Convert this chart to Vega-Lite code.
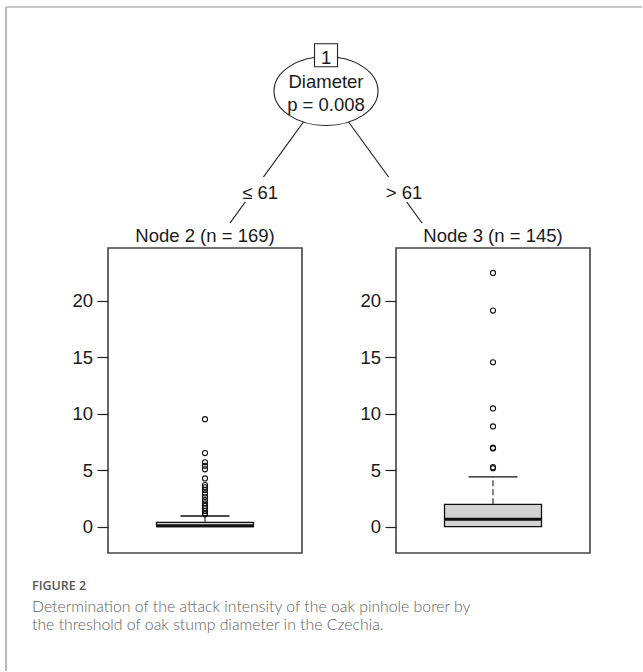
{
  "$schema": "https://vega.github.io/schema/vega-lite/v6.json",
  "padding": {"left": 5, "top": 6, "right": 0, "bottom": 0},
  "background": "white",
  "datasets": {
    "nodes": [
      {"id": "1", "variable": "Diameter", "p": "p = 0.008", "pos": 1.5, "depth": 0}
    ],
    "edges": [
      {"split": "≤ 61", "pos": 1.5, "depth": 0, "child_pos": 1, "child_depth": 1, "label_pos": 1.271, "label_depth": 0.51},
      {"split": "> 61", "pos": 1.5, "depth": 0, "child_pos": 2, "child_depth": 1, "label_pos": 1.771, "label_depth": 0.51}
    ],
    "stats": [
      {"node": "Node 2", "n": 169, "q1": 0, "median": 0.08, "q3": 0.39, "upper_whisker": 0.95},
      {"node": "Node 3", "n": 145, "q1": 0, "median": 0.65, "q3": 1.98, "upper_whisker": 4.42}
    ],
    "outliers": [
      {"node": "Node 2", "value": 9.53},
      {"node": "Node 2", "value": 6.52},
      {"node": "Node 2", "value": 5.7},
      {"node": "Node 2", "value": 5.4},
      {"node": "Node 2", "value": 5.08},
      {"node": "Node 2", "value": 4.28},
      {"node": "Node 2", "value": 3.69},
      {"node": "Node 2", "value": 3.49},
      {"node": "Node 2", "value": 3.25},
      {"node": "Node 2", "value": 2.95},
      {"node": "Node 2", "value": 2.65},
      {"node": "Node 2", "value": 2.36},
      {"node": "Node 2", "value": 2.07},
      {"node": "Node 2", "value": 1.84},
      {"node": "Node 2", "value": 1.64},
      {"node": "Node 2", "value": 1.4},
      {"node": "Node 2", "value": 1.2},
      {"node": "Node 2", "value": 1.1},
      {"node": "Node 3", "value": 22.48},
      {"node": "Node 3", "value": 19.15},
      {"node": "Node 3", "value": 14.57},
      {"node": "Node 3", "value": 10.48},
      {"node": "Node 3", "value": 8.88},
      {"node": "Node 3", "value": 7.0},
      {"node": "Node 3", "value": 6.93},
      {"node": "Node 3", "value": 5.27},
      {"node": "Node 3", "value": 5.18}
    ]
  },
  "config": {
    "view": {"stroke": "#444", "strokeWidth": 1.6},
    "font": "Liberation Sans",
    "axisY": {"domain": false, "grid": false, "tickSize": 11, "tickWidth": 1.2, "tickColor": "#222", "labelFontSize": 18.5, "labelFont": "Liberation Sans", "labelColor": "#1a1a1a", "labelPadding": 4.5},
    "title": {"font": "Liberation Sans", "fontSize": 18.5, "fontWeight": "normal", "color": "#1a1a1a", "baseline": "alphabetic", "offset": 3, "anchor": "middle", "frame": "group"}
  },
  "bounds": "flush",
  "spacing": 25,
  "vconcat": [
    {
      "width": 482,
      "height": 216,
      "view": {"stroke": null},
      "layer": [
        {
          "data": {"values": [{}]},
          "mark": {"type": "rule", "color": "#c8c8c8", "strokeWidth": 2, "clip": false},
          "encoding": {
            "x": {"datum": 0.389, "type": "quantitative", "scale": {"domain": [0.743, 2.4166], "nice": false, "zero": false}, "axis": null},
            "x2": {"datum": 2.597},
            "y": {"datum": -0.4242, "type": "quantitative", "scale": {"domain": [-0.4242, 0.6667], "nice": false, "zero": false, "reverse": true}, "axis": null}
          }
        },
        {
          "data": {"values": [{}]},
          "mark": {"type": "rule", "color": "#b8b8b8", "strokeWidth": 2, "clip": false},
          "encoding": {
            "x": {"datum": 0.389, "type": "quantitative", "scale": {"domain": [0.743, 2.4166], "nice": false, "zero": false}, "axis": null},
            "y": {"datum": -0.4242, "type": "quantitative", "scale": {"domain": [-0.4242, 0.6667], "nice": false, "zero": false, "reverse": true}, "axis": null},
            "y2": {"datum": 2.929}
          }
        },
        {
          "data": {"name": "edges"},
          "mark": {"type": "rule", "color": "#222", "strokeWidth": 1.1, "clip": true},
          "encoding": {
            "x": {"field": "pos", "type": "quantitative", "scale": {"domain": [0.743, 2.4166], "nice": false, "zero": false}, "axis": null},
            "y": {"field": "depth", "type": "quantitative", "scale": {"domain": [-0.4242, 0.6667], "nice": false, "zero": false, "reverse": true}, "axis": null},
            "x2": {"field": "child_pos"},
            "y2": {"field": "child_depth"}
          }
        },
        {
          "data": {"name": "edges"},
          "mark": {"type": "point", "shape": "M-1,-0.568H1V0.568H-1Z", "size": 1936, "filled": true, "fill": "white", "strokeWidth": 0, "opacity": 1, "yOffset": -2.5},
          "encoding": {
            "x": {"field": "label_pos", "type": "quantitative", "scale": {"domain": [0.743, 2.4166], "nice": false, "zero": false}, "axis": null},
            "y": {"field": "label_depth", "type": "quantitative", "scale": {"domain": [-0.4242, 0.6667], "nice": false, "zero": false, "reverse": true}, "axis": null}
          }
        },
        {
          "data": {"name": "edges"},
          "mark": {"type": "text", "fontSize": 18.5, "font": "Liberation Sans", "color": "#1a1a1a", "baseline": "alphabetic", "align": "center", "dy": 7},
          "encoding": {
            "x": {"field": "label_pos", "type": "quantitative", "scale": {"domain": [0.743, 2.4166], "nice": false, "zero": false}, "axis": null},
            "y": {"field": "label_depth", "type": "quantitative", "scale": {"domain": [-0.4242, 0.6667], "nice": false, "zero": false, "reverse": true}, "axis": null},
            "text": {"field": "split", "type": "nominal"}
          }
        },
        {
          "data": {"name": "nodes"},
          "mark": {"type": "point", "shape": "M1,0C1,0.366 0.552,0.663 0,0.663C-0.552,0.663 -1,0.366 -1,0C-1,-0.366 -0.552,-0.663 0,-0.663C0.552,-0.663 1,-0.366 1,0Z", "size": 10816, "filled": true, "fill": "white", "stroke": "#222", "strokeWidth": 1.1, "opacity": 1},
          "encoding": {
            "x": {"field": "pos", "type": "quantitative", "scale": {"domain": [0.743, 2.4166], "nice": false, "zero": false}, "axis": null},
            "y": {"field": "depth", "type": "quantitative", "scale": {"domain": [-0.4242, 0.6667], "nice": false, "zero": false, "reverse": true}, "axis": null}
          }
        },
        {
          "data": {"name": "nodes"},
          "mark": {"type": "text", "fontSize": 18.5, "font": "Liberation Sans", "color": "#1a1a1a", "baseline": "alphabetic", "align": "center", "dy": -2.7},
          "encoding": {
            "x": {"field": "pos", "type": "quantitative", "scale": {"domain": [0.743, 2.4166], "nice": false, "zero": false}, "axis": null},
            "y": {"field": "depth", "type": "quantitative", "scale": {"domain": [-0.4242, 0.6667], "nice": false, "zero": false, "reverse": true}, "axis": null},
            "text": {"field": "variable", "type": "nominal"}
          }
        },
        {
          "data": {"name": "nodes"},
          "mark": {"type": "text", "fontSize": 18.5, "font": "Liberation Sans", "color": "#1a1a1a", "baseline": "alphabetic", "align": "center", "dy": 20},
          "encoding": {
            "x": {"field": "pos", "type": "quantitative", "scale": {"domain": [0.743, 2.4166], "nice": false, "zero": false}, "axis": null},
            "y": {"field": "depth", "type": "quantitative", "scale": {"domain": [-0.4242, 0.6667], "nice": false, "zero": false, "reverse": true}, "axis": null},
            "text": {"field": "p", "type": "nominal"}
          }
        },
        {
          "data": {"name": "nodes"},
          "mark": {"type": "point", "shape": "square", "size": 529, "filled": true, "fill": "white", "stroke": "#222", "strokeWidth": 1.1, "opacity": 1, "yOffset": -35.7},
          "encoding": {
            "x": {"field": "pos", "type": "quantitative", "scale": {"domain": [0.743, 2.4166], "nice": false, "zero": false}, "axis": null},
            "y": {"field": "depth", "type": "quantitative", "scale": {"domain": [-0.4242, 0.6667], "nice": false, "zero": false, "reverse": true}, "axis": null}
          }
        },
        {
          "data": {"name": "nodes"},
          "mark": {"type": "text", "fontSize": 18.5, "font": "Liberation Sans", "color": "#1a1a1a", "baseline": "alphabetic", "align": "center", "dy": -26.7},
          "encoding": {
            "x": {"field": "pos", "type": "quantitative", "scale": {"domain": [0.743, 2.4166], "nice": false, "zero": false}, "axis": null},
            "y": {"field": "depth", "type": "quantitative", "scale": {"domain": [-0.4242, 0.6667], "nice": false, "zero": false, "reverse": true}, "axis": null},
            "text": {"field": "id", "type": "nominal"}
          }
        }
      ]
    },
    {
      "bounds": "flush",
      "spacing": 94,
      "title": {
        "text": "FIGURE 2",
        "subtitle": ["Determination of the attack intensity of the oak pinhole borer by", "the threshold of oak stump diameter in the Czechia."],
        "orient": "bottom",
        "anchor": "start",
        "frame": "group",
        "dx": -76,
        "offset": 26,
        "baseline": "top",
        "font": "Open Sans",
        "fontSize": 12.5,
        "fontWeight": 600,
        "color": "#555555",
        "subtitleFont": "Lato",
        "subtitleFontSize": 15.8,
        "subtitleFontWeight": 300,
        "subtitleColor": "#5e5e5e",
        "subtitleLineHeight": 18.4,
        "subtitlePadding": 7.5
      },
      "hconcat": [
        {
          "width": 194,
          "height": 305,
          "title": {"text": "Node 2 (n = 169)"},
          "layer": [
            {
              "data": {"name": "stats"},
              "transform": [{"filter": "datum.node === 'Node 2'"}],
              "mark": {"type": "bar", "fill": "#d3d3d3", "stroke": "#111", "strokeWidth": 1.3},
              "encoding": {
                "x": {"field": "node", "type": "nominal", "scale": {"type": "band", "paddingInner": 0, "paddingOuter": 0.5}, "axis": null},
                "y": {"field": "q1", "type": "quantitative", "scale": {"domain": [-2.33, 24.69], "nice": false, "zero": false}, "axis": {"title": null, "values": [0, 5, 10, 15, 20]}},
                "y2": {"field": "q3"}
              }
            },
            {
              "data": {"name": "stats"},
              "transform": [{"filter": "datum.node === 'Node 2'"}],
              "mark": {"type": "rule", "color": "#333", "strokeWidth": 1.2, "strokeDash": [6, 3]},
              "encoding": {
                "x": {"field": "node", "type": "nominal", "scale": {"type": "band", "paddingInner": 0, "paddingOuter": 0.5}, "axis": null, "bandPosition": 0.5},
                "y": {"field": "q3", "type": "quantitative", "scale": {"domain": [-2.33, 24.69], "nice": false, "zero": false}, "axis": {"title": null, "values": [0, 5, 10, 15, 20]}},
                "y2": {"field": "upper_whisker"}
              }
            },
            {
              "data": {"name": "stats"},
              "transform": [{"filter": "datum.node === 'Node 2'"}],
              "mark": {"type": "tick", "orient": "horizontal", "size": 49, "thickness": 1.3, "color": "#111", "opacity": 1},
              "encoding": {
                "x": {"field": "node", "type": "nominal", "scale": {"type": "band", "paddingInner": 0, "paddingOuter": 0.5}, "axis": null},
                "y": {"field": "upper_whisker", "type": "quantitative", "scale": {"domain": [-2.33, 24.69], "nice": false, "zero": false}, "axis": {"title": null, "values": [0, 5, 10, 15, 20]}}
              }
            },
            {
              "data": {"name": "stats"},
              "transform": [{"filter": "datum.node === 'Node 2'"}],
              "mark": {"type": "tick", "orient": "horizontal", "size": 97, "thickness": 3, "color": "#111", "opacity": 1},
              "encoding": {
                "x": {"field": "node", "type": "nominal", "scale": {"type": "band", "paddingInner": 0, "paddingOuter": 0.5}, "axis": null},
                "y": {"field": "median", "type": "quantitative", "scale": {"domain": [-2.33, 24.69], "nice": false, "zero": false}, "axis": {"title": null, "values": [0, 5, 10, 15, 20]}}
              }
            },
            {
              "data": {"name": "outliers"},
              "transform": [{"filter": "datum.node === 'Node 2'"}],
              "mark": {"type": "point", "shape": "circle", "filled": false, "stroke": "#111", "strokeWidth": 1.1, "size": 26, "opacity": 1},
              "encoding": {
                "x": {"field": "node", "type": "nominal", "scale": {"type": "band", "paddingInner": 0, "paddingOuter": 0.5}, "axis": null},
                "y": {"field": "value", "type": "quantitative", "scale": {"domain": [-2.33, 24.69], "nice": false, "zero": false}, "axis": {"title": null, "values": [0, 5, 10, 15, 20]}}
              }
            }
          ]
        },
        {
          "width": 194,
          "height": 305,
          "title": {"text": "Node 3 (n = 145)"},
          "layer": [
            {
              "data": {"name": "stats"},
              "transform": [{"filter": "datum.node === 'Node 3'"}],
              "mark": {"type": "bar", "fill": "#d3d3d3", "stroke": "#111", "strokeWidth": 1.3},
              "encoding": {
                "x": {"field": "node", "type": "nominal", "scale": {"type": "band", "paddingInner": 0, "paddingOuter": 0.5}, "axis": null},
                "y": {"field": "q1", "type": "quantitative", "scale": {"domain": [-2.33, 24.69], "nice": false, "zero": false}, "axis": {"title": null, "values": [0, 5, 10, 15, 20]}},
                "y2": {"field": "q3"}
              }
            },
            {
              "data": {"name": "stats"},
              "transform": [{"filter": "datum.node === 'Node 3'"}],
              "mark": {"type": "rule", "color": "#333", "strokeWidth": 1.2, "strokeDash": [6, 3]},
              "encoding": {
                "x": {"field": "node", "type": "nominal", "scale": {"type": "band", "paddingInner": 0, "paddingOuter": 0.5}, "axis": null, "bandPosition": 0.5},
                "y": {"field": "q3", "type": "quantitative", "scale": {"domain": [-2.33, 24.69], "nice": false, "zero": false}, "axis": {"title": null, "values": [0, 5, 10, 15, 20]}},
                "y2": {"field": "upper_whisker"}
              }
            },
            {
              "data": {"name": "stats"},
              "transform": [{"filter": "datum.node === 'Node 3'"}],
              "mark": {"type": "tick", "orient": "horizontal", "size": 49, "thickness": 1.3, "color": "#111", "opacity": 1},
              "encoding": {
                "x": {"field": "node", "type": "nominal", "scale": {"type": "band", "paddingInner": 0, "paddingOuter": 0.5}, "axis": null},
                "y": {"field": "upper_whisker", "type": "quantitative", "scale": {"domain": [-2.33, 24.69], "nice": false, "zero": false}, "axis": {"title": null, "values": [0, 5, 10, 15, 20]}}
              }
            },
            {
              "data": {"name": "stats"},
              "transform": [{"filter": "datum.node === 'Node 3'"}],
              "mark": {"type": "tick", "orient": "horizontal", "size": 97, "thickness": 3, "color": "#111", "opacity": 1},
              "encoding": {
                "x": {"field": "node", "type": "nominal", "scale": {"type": "band", "paddingInner": 0, "paddingOuter": 0.5}, "axis": null},
                "y": {"field": "median", "type": "quantitative", "scale": {"domain": [-2.33, 24.69], "nice": false, "zero": false}, "axis": {"title": null, "values": [0, 5, 10, 15, 20]}}
              }
            },
            {
              "data": {"name": "outliers"},
              "transform": [{"filter": "datum.node === 'Node 3'"}],
              "mark": {"type": "point", "shape": "circle", "filled": false, "stroke": "#111", "strokeWidth": 1.1, "size": 26, "opacity": 1},
              "encoding": {
                "x": {"field": "node", "type": "nominal", "scale": {"type": "band", "paddingInner": 0, "paddingOuter": 0.5}, "axis": null},
                "y": {"field": "value", "type": "quantitative", "scale": {"domain": [-2.33, 24.69], "nice": false, "zero": false}, "axis": {"title": null, "values": [0, 5, 10, 15, 20]}}
              }
            }
          ]
        }
      ]
    }
  ]
}
